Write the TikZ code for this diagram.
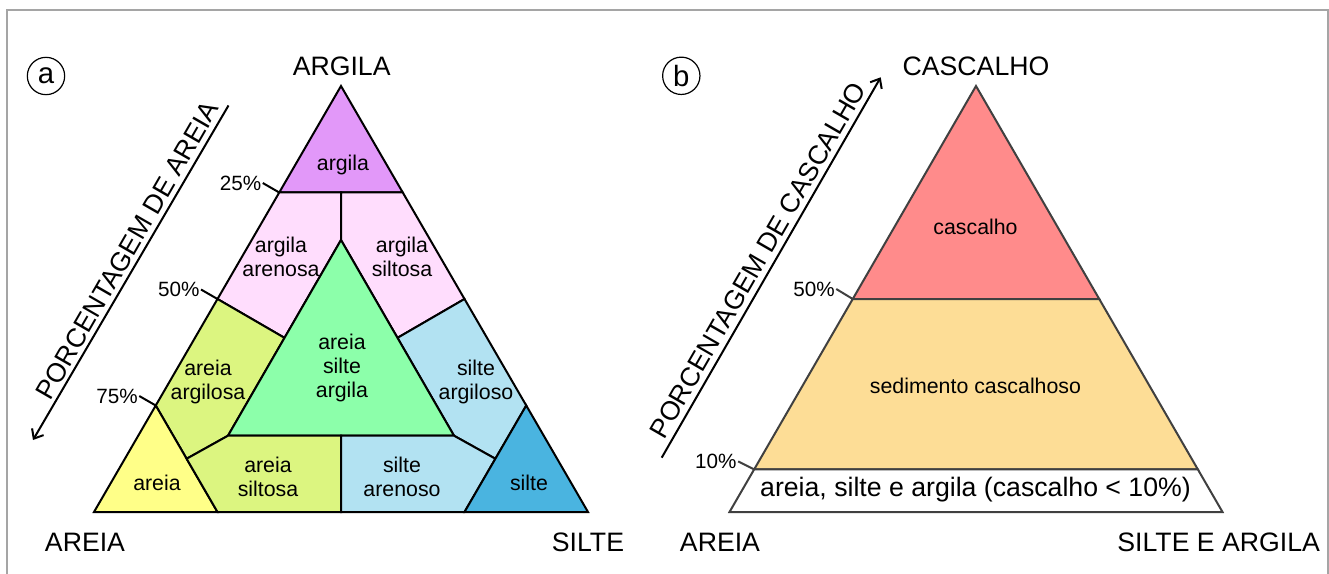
\documentclass[tikz,border=0pt]{standalone}
\usepackage{fontspec}
\setmainfont{Liberation Sans}
\usetikzlibrary{calc,arrows.meta}
\definecolor{corargila}{RGB}{226,152,249}
\definecolor{corrosa}{RGB}{255,221,253}
\definecolor{corlima}{RGB}{220,245,128}
\definecolor{corverde}{RGB}{140,255,170}
\definecolor{coramarelo}{RGB}{255,255,136}
\definecolor{corazul}{RGB}{178,226,242}
\definecolor{corsilte}{RGB}{74,180,224}
\definecolor{corcascalho}{RGB}{255,139,139}
\definecolor{corsedimento}{RGB}{253,221,150}
\definecolor{cortraco}{RGB}{64,64,64}
\definecolor{cormoldura}{RGB}{165,165,165}
\begin{document}
\begin{tikzpicture}[x=0.75pt,y=-0.75pt,
  zona/.style={draw=black,line width=1.5pt},
  zonab/.style={draw=cortraco,line width=1.5pt},
  rot/.style={font=\fontsize{16}{18}\selectfont,align=center,inner sep=0pt},
  vert/.style={font=\fontsize{20}{22}\selectfont,inner sep=0pt},
  pct/.style={font=\fontsize{15.5}{18}\selectfont,anchor=east,inner sep=1pt},
  marca/.style={line width=1.5pt},
  eixo/.style={line width=1.5pt,-{Straight Barb[length=6pt,width=10pt]}},
  letra/.style={circle,draw,line width=0.9pt,minimum size=28pt,inner sep=0pt,font=\fontsize{22}{24}\selectfont},
  moldura/.style={draw=cormoldura,line width=1.5pt}]

\useasboundingbox (0,0) rectangle (1329,574);
\draw[moldura] (7,600) -- (7,10.5) -- (1327.5,10.5) -- (1327.5,600);

\coordinate (A) at (341,86);
\coordinate (L) at (94,512);
\coordinate (R) at (588,512);
\coordinate (p25l) at ($(L)!0.75!(A)$);
\coordinate (p25r) at ($(R)!0.75!(A)$);
\coordinate (p50l) at ($(L)!0.5!(A)$);
\coordinate (p50r) at ($(R)!0.5!(A)$);
\coordinate (p75l) at ($(L)!0.25!(A)$);
\coordinate (p75r) at ($(R)!0.25!(A)$);
\coordinate (mt) at ($(p25l)!0.5!(p25r)$);
\coordinate (ga) at (341,240);
\coordinate (gl) at (228,435.7);
\coordinate (gr) at (454,435.7);
\coordinate (gm) at (341,435.7);
\coordinate (b1) at ($(L)!0.25!(R)$);
\coordinate (b2) at ($(L)!0.5!(R)$);
\coordinate (b3) at ($(L)!0.75!(R)$);
\coordinate (q1) at ($(p75l)!0.5!(b1)$);
\coordinate (q2) at ($(p75r)!0.5!(b3)$);
\coordinate (e1) at ($(ga)!0.5!(gl)$);
\coordinate (e2) at ($(ga)!0.5!(gr)$);

\draw[zona,fill=corargila] (A) -- (p25r) -- (p25l) -- cycle;
\draw[zona,fill=corrosa] (p25l) -- (mt) -- (ga) -- (e1) -- (p50l) -- cycle;
\draw[zona,fill=corrosa] (mt) -- (p25r) -- (p50r) -- (e2) -- (ga) -- cycle;
\draw[zona,fill=corlima] (p50l) -- (e1) -- (gl) -- (q1) -- (p75l) -- cycle;
\draw[zona,fill=corazul] (p50r) -- (p75r) -- (q2) -- (gr) -- (e2) -- cycle;
\draw[zona,fill=corverde] (ga) -- (gr) -- (gl) -- cycle;
\draw[zona,fill=coramarelo] (p75l) -- (b1) -- (L) -- cycle;
\draw[zona,fill=corlima] (q1) -- (gl) -- (gm) -- (b2) -- (b1) -- cycle;
\draw[zona,fill=corazul] (gm) -- (gr) -- (q2) -- (b3) -- (b2) -- cycle;
\draw[zona,fill=corsilte] (p75r) -- (R) -- (b3) -- cycle;

\node[rot] (targila) at (343,165) {argila};
\node[rot] (targare) at (281,257) {argila\\arenosa};
\node[rot] (targsil) at (402,257) {argila\\siltosa};
\node[rot] (tmista) at (342,368) {areia\\silte\\argila};
\node[rot] (tareiarg) at (208,382) {areia\\argilosa};
\node[rot] (tsiltarg) at (476,382) {silte\\argiloso};
\node[rot] (tareia) at (157,483) {areia};
\node[rot] (tareiasil) at (268,477) {areia\\siltosa};
\node[rot] (tsiltare) at (402,477) {silte\\arenoso};
\node[rot] (tsilte) at (529,483) {silte};

\node[vert] (vargila) at (341.7,66.3) {ARGILA};
\node[vert] (vareia) at (85,542) {AREIA};
\node[vert] (vsilte) at (588,542) {SILTE};

\node[pct] (l25) at ($(p25l)+(-16.5,-9.5)$) {25\%};
\node[pct] (l50) at ($(p50l)+(-16.5,-9.5)$) {50\%};
\node[pct] (l75) at ($(p75l)+(-16.5,-9.5)$) {75\%};
\draw[marca] (p25l) -- (l25.east);
\draw[marca] (p50l) -- (l50.east);
\draw[marca] (p75l) -- (l75.east);

\coordinate (sa1) at (228.5,105.5);
\coordinate (sa2) at (33,440);
\draw[eixo] (sa1) -- (sa2);
\node[vert,rotate=60,anchor=base] (eixoa) at (135,255) {PORCENTAGEM DE AREIA};

\node[letra] (pa) at (46,76) {a};

\coordinate (B) at (976,86);
\coordinate (BL) at (729.5,512);
\coordinate (BR) at (1222.5,512);
\coordinate (c50l) at ($(BL)!0.5!(B)$);
\coordinate (c50r) at ($(BR)!0.5!(B)$);
\coordinate (c10l) at ($(BL)!0.1!(B)$);
\coordinate (c10r) at ($(BR)!0.1!(B)$);

\draw[zonab,fill=corcascalho] (B) -- (c50r) -- (c50l) -- cycle;
\draw[zonab,fill=corsedimento] (c50l) -- (c50r) -- (c10r) -- (c10l) -- cycle;
\draw[zonab,fill=white] (c10l) -- (c10r) -- (BR) -- (BL) -- cycle;

\node[rot] (tcasc) at (975.5,226.7) {cascalho};
\node[rot] (tsed) at (975.5,386) {sedimento cascalhoso};
\node[vert] (tresto) at (975.5,490) {areia, silte e argila (cascalho < 10\%)};

\node[vert] (vcasc) at (976,66) {CASCALHO};
\node[vert] (vareiab) at (720,542) {AREIA};
\node[vert] (vsilarg) at (1218.7,542) {SILTE E ARGILA};

\node[pct] (l50b) at ($(c50l)+(-16.5,-10)$) {50\%};
\node[pct] (l10b) at ($(c10l)+(-16,-8)$) {10\%};
\draw[marca,cortraco] (c50l) -- (l50b.east);
\draw[marca,cortraco] (c10l) -- (l10b.east);

\coordinate (sb1) at (661.7,457.7);
\coordinate (sb2) at (880.7,77.3);
\draw[eixo] (sb1) -- (sb2);
\node[vert,rotate=60,anchor=base] (eixob) at (765.8,264.8) {PORCENTAGEM DE CASCALHO};

\node[letra] (pb) at (681.3,75.8) {b};
\end{tikzpicture}
\end{document}
